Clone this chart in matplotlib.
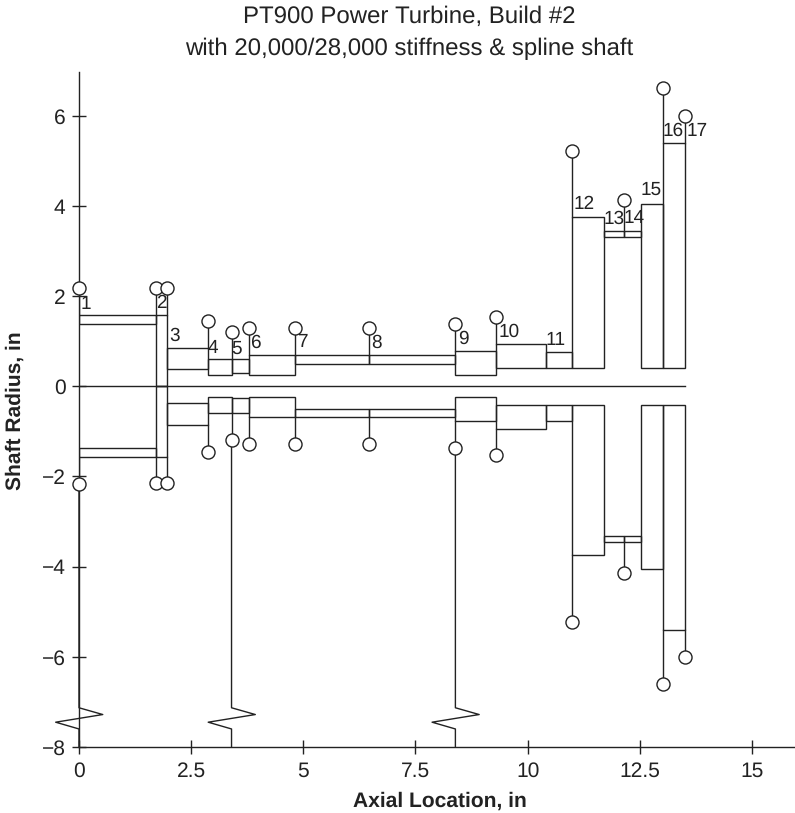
import matplotlib
matplotlib.use("Agg")
import matplotlib.pyplot as plt
from matplotlib.patches import Rectangle

plt.rcParams["font.family"] = ["Liberation Sans", "DejaVu Sans"]
plt.rcParams["text.hinting"] = "no_hinting"
plt.rcParams["text.hinting_factor"] = 1

# axial stations
station_x = [0, 1.72, 1.97, 2.875, 3.40, 3.78, 4.82, 6.47, 8.39, 9.30, 10.40,
             11.00, 11.70, 12.14, 12.53, 13.02, 13.51]

# shaft elements between stations: radii above and below the centre line
outer_top = [1.57, 1.57, 0.85, 0.60, 0.60, 0.695, 0.695, 0.695, 0.78, 0.945,
             0.77, 3.75, 3.45, 3.45, 4.05, 5.40]
inner_top = [1.39, 0, 0.385, 0.25, 0.29, 0.25, 0.50, 0.50, 0.25, 0.405,
             0.405, 0.405, 3.31, 3.31, 0.405, 0.405]
inner_bot = [-1.375, 0, -0.377, -0.245, -0.27, -0.245, -0.495, -0.495, -0.245,
             -0.405, -0.405, -0.405, -3.31, -3.31, -0.405, -0.405]
outer_bot = [-1.57, -1.57, -0.85, -0.59, -0.59, -0.68, -0.69, -0.69, -0.78,
             -0.94, -0.77, -3.75, -3.45, -3.45, -4.05, -5.40]

# disk stations with a stem and circle
disk_idx = [0, 1, 2, 3, 4, 5, 6, 7, 8, 9, 11, 13, 15, 16]
disk_top = [2.18, 2.18, 2.18, 1.456, 1.205, 1.29, 1.29, 1.29, 1.38, 1.54,
            5.21, 4.14, 6.62, 6.0]
disk_bot = [-2.16, -2.15, -2.15, -1.45, -1.19, -1.28, -1.28, -1.28, -1.37,
            -1.53, -5.22, -4.14, -6.61, -6.0]

# bearings: stem down to the axis with a zigzag spring
bearing_idx = [0, 4, 8]
bearing_from = [-2.16, -1.19, -1.37]
spring_dx = [0, 0, 0.53, -0.52, 0, 0]
spring_y = [None, -7.13, -7.28, -7.45, -7.60, -8.0]

# station numbers
label_text = [str(i) for i in range(1, 18)]
label_x = [0.156, 1.84, 2.13, 2.99, 3.52, 3.92, 4.97, 6.62, 8.56, 9.58, 10.62,
           11.25, 11.92, 12.37, 12.75, 13.25, 13.77]
label_y = [1.82, 1.84, 1.12, 0.84, 0.84, 0.97, 0.97, 0.97, 1.05, 1.21, 1.02,
           4.03, 3.72, 3.72, 4.35, 5.66, 5.66]

xticks = [0, 2.5, 5, 7.5, 10, 12.5, 15]
xticklabels = ["0", "2.5", "5", "7.5", "10", "12.5", "15"]
yticks = [-8, -6, -4, -2, 0, 2, 4, 6]
yticklabels = ["\u22128", "\u22126", "\u22124", "\u22122", "0", "2", "4", "6"]

LW = 1.0
INK = "#222222"

fig = plt.figure(figsize=(7.95, 8.13), dpi=100)
ax = fig.add_axes([79 / 795, 1 - 747 / 813, 716 / 795, 675 / 813])
ax.set_xlim(0, 15.96)
ax.set_ylim(-8, 6.97)

# centre line
ax.plot([station_x[0], station_x[-1]], [0, 0], color=INK, lw=LW, zorder=2)

# shaft
for i in range(len(outer_top)):
    x0 = station_x[i]
    w = station_x[i + 1] - x0
    ax.add_patch(Rectangle((x0, inner_top[i]), w, outer_top[i] - inner_top[i],
                           fill=False, ec=INK, lw=LW, zorder=2))
    ax.add_patch(Rectangle((x0, outer_bot[i]), w, inner_bot[i] - outer_bot[i],
                           fill=False, ec=INK, lw=LW, zorder=2))

# bearings
for i, y_from in zip(bearing_idx, bearing_from):
    xs = [station_x[i] + d for d in spring_dx]
    ys = [y_from] + spring_y[1:]
    ax.plot(xs, ys, color=INK, lw=LW, zorder=2, clip_on=False)

# disks
for i, yt, yb in zip(disk_idx, disk_top, disk_bot):
    x = station_x[i]
    top_start = max(outer_top[i] if i < len(outer_top) else 0,
                    outer_top[i - 1] if i > 0 else 0)
    bot_start = min(outer_bot[i] if i < len(outer_bot) else 0,
                    outer_bot[i - 1] if i > 0 else 0)
    ax.plot([x, x], [top_start, yt], color=INK, lw=LW, zorder=2)
    ax.plot([x, x], [bot_start, yb], color=INK, lw=LW, zorder=2)
    ax.plot([x, x], [yt, yb], ls="none", marker="o", ms=9.4, mfc="white",
            mec=INK, mew=LW, zorder=3, clip_on=False)

for t, x, y in zip(label_text, label_x, label_y):
    ax.text(x, y, t, ha="center", va="center", fontsize=13.5, color=INK)

ax.spines["top"].set_visible(False)
ax.spines["right"].set_visible(False)
ax.spines["left"].set_linewidth(LW)
ax.spines["bottom"].set_linewidth(LW)
ax.spines["left"].set_color(INK)
ax.spines["bottom"].set_color(INK)

ax.set_xticks(xticks)
ax.set_xticklabels(xticklabels)
ax.set_yticks(yticks)
ax.set_yticklabels(yticklabels)
ax.tick_params(direction="inout", length=9.5, width=LW, color=INK,
               labelsize=15, labelcolor=INK)
ax.tick_params(axis="x", pad=6)
ax.tick_params(axis="y", pad=5)

fig.text(439.5 / 795, 1 - 801 / 813, "Axial Location, in", ha="center", va="center",
         fontsize=15, fontweight="bold", color=INK)
fig.text(15 / 795, 1 - 411 / 813, "Shaft Radius, in", ha="center", va="center",
         rotation=90, fontsize=15, fontweight="bold", color=INK)

fig.text(409.5 / 795, 1 - 33 / 813,
         "PT900 Power Turbine, Build #2\nwith 20,000/28,000 stiffness & spline shaft",
         ha="center", va="center", fontsize=17, color=INK, linespacing=1.55)

fig.savefig("out.png", dpi=100)
